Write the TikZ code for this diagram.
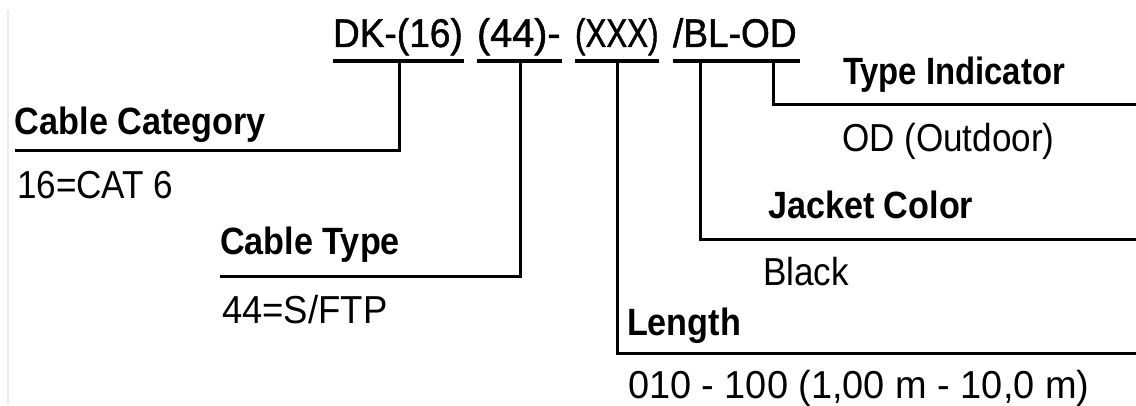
\documentclass[tikz,border=0pt]{standalone}
\usepackage{fontspec}
\setmainfont{Liberation Sans}[FakeStretch=0.9]
\newfontfamily\codefont{Liberation Sans}[FakeStretch=0.9,FakeBold=1.2]
\begin{document}
\begin{tikzpicture}[x=1pt,y=1pt,
  lbl/.style={anchor=base west,inner sep=0pt,outer sep=0pt,font=\fontsize{38}{40}\selectfont\bfseries},
  val/.style={anchor=base west,inner sep=0pt,outer sep=0pt,font=\fontsize{39}{40}\selectfont},
  code/.style={anchor=base west,inner sep=0pt,outer sep=0pt,font=\fontsize{40}{42}\codefont},
  underl/.style={line width=3.2pt},
  conn/.style={line width=3pt,line join=miter}]
\useasboundingbox (0,0) rectangle (1136,405);
\definecolor{edgegray}{RGB}{232,236,244}
\coordinate (bt) at (8,395);
\coordinate (bb) at (8,0);
\draw[edgegray,line width=1.5pt] (bt) -- (bb);

% code segments
\node[code] (c1) at (333,358) {\scalebox{1.03}[1]{DK-(16)}};
\node[code] (c2) at (477,358) {\scalebox{1.1}[1]{(44)-}};
\node[code] (c3) at (575,358) {\scalebox{0.87}[1]{(XXX)}};
\node[code] (c4) at (673,358) {\scalebox{1.03}[1]{/BL-OD}};

\coordinate (u1l) at (333,344); \coordinate (u1r) at (464,344);
\coordinate (u2l) at (477,344); \coordinate (u2r) at (562,344);
\coordinate (u3l) at (575,344); \coordinate (u3r) at (659,344);
\coordinate (u4l) at (673,344); \coordinate (u4r) at (800,344);
\draw[underl] (u1l) -- (u1r);
\draw[underl] (u2l) -- (u2r);
\draw[underl] (u3l) -- (u3r);
\draw[underl] (u4l) -- (u4r);

% tick points
\coordinate (t1) at (399,344);
\coordinate (t2) at (520,344);
\coordinate (t3) at (617,344);
\coordinate (t4) at (700,344);
\coordinate (t5) at (773,344);

% free ends
\coordinate (e1) at (15,254);
\coordinate (e2) at (220,129);
\coordinate (e3) at (1136,52);
\coordinate (e4) at (1136,166);
\coordinate (e5) at (1136,300);

\draw[conn] (t1) |- (e1);
\draw[conn] (t2) |- (e2);
\draw[conn] (t3) |- (e3);
\draw[conn] (t4) |- (e4);
\draw[conn] (t5) |- (e5);

% labels
\node[lbl] (catl) at (15,270) {Cable Category};
\node[val] (catv) at (17,207) {16=CAT 6};
\node[lbl] (typl) at (220,150) {Cable Type};
\node[val] (typv) at (222,82) {\scalebox{1.04}[1]{44=S/FTP}};
\node[lbl] (lenl) at (627,70) {Length};
\node[val] (lenv) at (628,7) {\scalebox{1.08}[1]{010 - 100 (1,00 m - 10,0 m)}};
\node[lbl] (jckl) at (768,186) {Jacket Color};
\node[val] (jckv) at (763,120) {Black};
\node[lbl] (indl) at (843,320) {\scalebox{0.96}[1]{Type Indicator}};
\node[val] (indv) at (842,253) {OD (Outdoor)};
\end{tikzpicture}
\end{document}
